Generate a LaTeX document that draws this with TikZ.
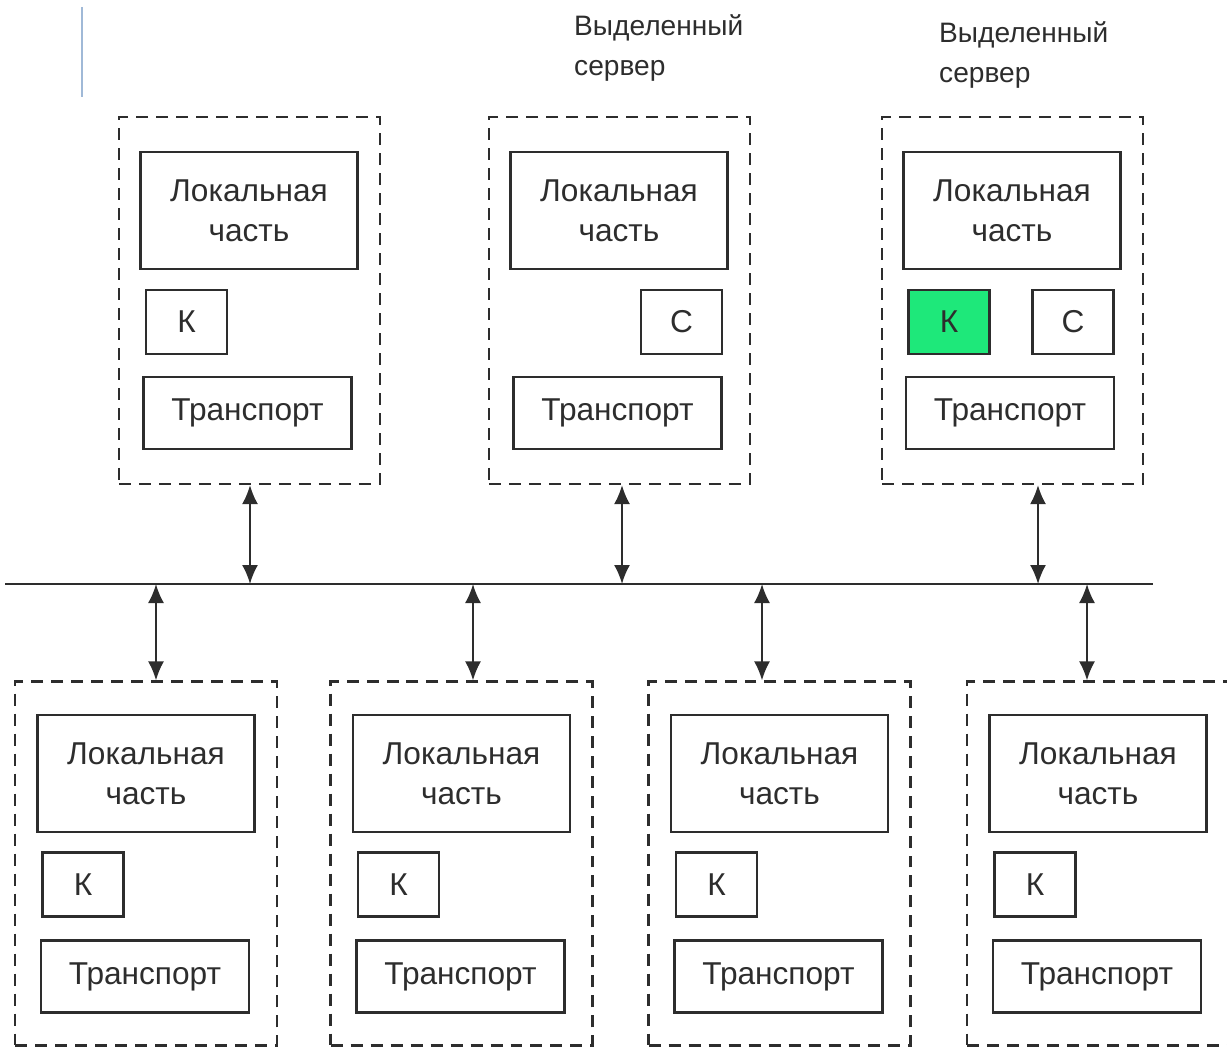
\documentclass[tikz,border=0pt]{standalone}
\usepackage{fontspec}
\setmainfont{Liberation Sans}
\usetikzlibrary{arrows.meta}

\definecolor{inkgray}{RGB}{45,45,45}
\definecolor{kgreen}{RGB}{30,232,122}
\definecolor{slideblue}{RGB}{160,185,215}

\tikzset{
  host/.style={draw=inkgray, line width=1.3pt, dash pattern=on 0.24cm off 0.16cm,
    minimum width=5.22cm, minimum height=7.34cm, inner sep=0pt},
  localbox/.style={draw=inkgray, line width=1.2pt, minimum width=4.34cm,
    minimum height=2.34cm, align=center, inner sep=0pt},
  kbox/.style={draw=inkgray, line width=1.2pt, minimum width=1.62cm,
    minimum height=1.28cm, inner sep=0pt},
  transbox/.style={draw=inkgray, line width=1.2pt, minimum width=4.16cm,
    minimum height=1.44cm, inner sep=0pt},
  link/.style={inkgray, line width=1.1pt, {Latex[length=0.38cm,width=0.32cm]}-{Latex[length=0.38cm,width=0.32cm]}}
}

\begin{document}
\begin{tikzpicture}[x=0.02cm, y=-0.02cm, every node/.style={text=inkgray, font=\fontsize{18}{23}\selectfont}]
        \useasboundingbox (0,0) rectangle (1227,1054);
        \clip (0,0) rectangle (1227,1054);
        \draw[slideblue, line width=1.1pt] (82,7) -- (82,97);
        % labels
        \node[anchor=west, align=left, font=\fontsize{16}{23}\selectfont] (lbl1) at (568,48) {Выделенный\\сервер};
        \node[anchor=west, align=left, font=\fontsize{16}{23}\selectfont] (lbl2) at (933,55) {Выделенный\\сервер};
        % bus
        \draw[inkgray, line width=1.3pt] (5,584) -- (1153,584);
        % top row
        \node[host] (t1) at (249.5,300.5) {};
        \node[localbox] (t1l) at (249,210.5) {Локальная\\часть};
        \node[kbox] (t1k) at (186.5,322) {К};
        \node[transbox] (t1t) at (247.5,413) {Транспорт};
        \node[host] (t2) at (619.5,300.5) {};
        \node[localbox] (t2l) at (619,210.5) {Локальная\\часть};
        \node[kbox] (t2c) at (681.5,322) {С};
        \node[transbox] (t2t) at (617.5,413) {Транспорт};
        \node[host] (t3) at (1012.5,300.5) {};
        \node[localbox] (t3l) at (1012,210.5) {Локальная\\часть};
        \node[kbox, fill=kgreen] (t3k) at (949,322) {К};
        \node[kbox] (t3c) at (1073,322) {С};
        \node[transbox] (t3t) at (1010,413) {Транспорт};
        \foreach \i/\x in {1/250, 2/622, 3/1038}
            \draw[link] (t\i.south -| \x,0) -- (\x,584);
        % bottom row
        \foreach \i/\x/\a in {1/146/156, 2/461.5/473, 3/779.5/762, 4/1098/1087} {
            \node[host, minimum width=5.24cm, minimum height=7.28cm] (b\i) at (\x,863.5) {};
            \node[localbox] (b\i l) at (\x,773.5) {Локальная\\часть};
            \node[kbox] (b\i k) at ([xshift=-1.26cm,yshift=-0.42cm]b\i.center) {К};
            \node[transbox] (b\i t) at ([xshift=-0.02cm,yshift=-2.26cm]b\i.center) {Транспорт};
            \draw[link] (\a,584) -- (b\i.north -| \a,0);
        }
    \end{tikzpicture}
\end{document}
